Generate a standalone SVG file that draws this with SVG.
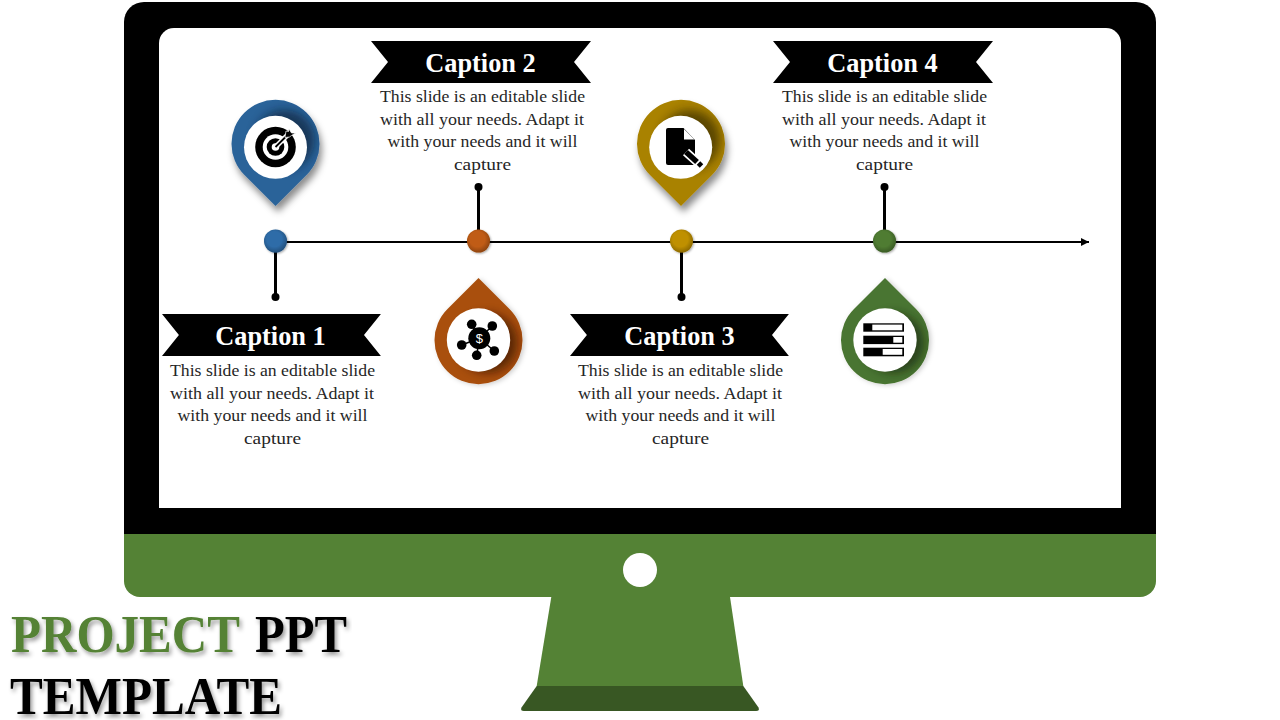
<svg xmlns="http://www.w3.org/2000/svg" width="1280" height="720" viewBox="0 0 1280 720">
<style>
text{font-family:"Liberation Serif","Times New Roman",serif}
.cap{font-size:26.3px;font-weight:700;fill:#fff;text-anchor:middle}
.body{font-size:17.7px;fill:#262626;text-anchor:middle}
.title{font-size:52.5px;font-weight:700;filter:url(#ts)}
.stem{stroke:#000;stroke-width:3;fill:none}
.ring{fill:#fff}
</style>
<defs>
<path id="pin" d="M0,62 L-31,31 A44,44 0 1 1 31,31 Z"/>
<path id="drop" d="M0,-62 L-31,-31 A44,44 0 1 0 31,-31 Z"/>
<path id="ban" d="M0,0 H220 L203,21 L220,42 H0 L17,21 Z"/>
<clipPath id="cp"><use href="#pin"/></clipPath>
<clipPath id="cd"><use href="#drop"/></clipPath>
<radialGradient id="dg" cx=".45" cy=".42" r=".6"><stop offset=".55" stop-color="#000" stop-opacity="0"/><stop offset="1" stop-color="#000" stop-opacity=".28"/></radialGradient>
<filter id="ts" x="-5%" y="-10%" width="110%" height="130%"><feDropShadow dx="2" dy="3" stdDeviation="2" flood-color="#000" flood-opacity=".4"/></filter>
<filter id="ps" x="-30%" y="-30%" width="160%" height="160%"><feDropShadow dx="2.5" dy="6" stdDeviation="3.5" flood-color="#000" flood-opacity=".45"/></filter>
<filter id="ds" x="-30%" y="-30%" width="160%" height="160%"><feDropShadow dx="2" dy="1" stdDeviation="2.5" flood-color="#000" flood-opacity=".2"/></filter>
<filter id="dot" x="-40%" y="-40%" width="180%" height="180%"><feDropShadow dx="1" dy="1" stdDeviation="1.2" flood-color="#000" flood-opacity=".35"/></filter>
<filter id="bl" x="-40%" y="-40%" width="180%" height="180%"><feGaussianBlur stdDeviation="5"/></filter>
<marker id="ah" markerWidth="9" markerHeight="9" refX="8" refY="4" orient="auto" markerUnits="userSpaceOnUse"><path d="M0,0 L8,4 L0,8 Z" fill="#000"/></marker>
</defs>

<g id="monitor">
<path fill="#000" d="M144,2 H1136 A20,20 0 0 1 1156,22 V534 H124 V22 A20,20 0 0 1 144,2 Z"/>
<path fill="#fff" d="M174,28 H1106 A15,15 0 0 1 1121,43 V508 H159 V43 A15,15 0 0 1 174,28 Z"/>
<path fill="#548235" d="M124,534 H1156 V581 A16,16 0 0 1 1140,597 H140 A16,16 0 0 1 124,581 Z"/>
<circle cx="640" cy="570" r="17" fill="#fff"/>
<path fill="#548235" d="M551.3,597 H730 L743.3,686 H536.7 Z"/>
<path fill="#385723" d="M536.7,686 H743.3 L758.5,707.5 Q760,711 756,711 H524 Q520,711 521.5,707.5 Z"/>
</g>

<g id="connectors">
<line x1="275" y1="242" x2="1089" y2="242" stroke="#000" stroke-width="2" marker-end="url(#ah)"/>
<path class="stem" d="M275.5,242 V297"/><circle cx="275.5" cy="297" r="4"/>
<path class="stem" d="M478.5,242 V187"/><circle cx="478.5" cy="187" r="4"/>
<path class="stem" d="M681.5,242 V297"/><circle cx="681.5" cy="297" r="4"/>
<path class="stem" d="M884.5,242 V187"/><circle cx="884.5" cy="187" r="4"/>
</g>

<g id="node1">
<circle cx="275.5" cy="241" r="11.5" fill="#2e6ca8" filter="url(#dot)"/><circle cx="275.5" cy="241" r="11.5" fill="url(#dg)"/>
<g transform="translate(275.5,144)">
<use href="#pin" fill="#2a6399" filter="url(#ps)"/>
<g clip-path="url(#cp)"><circle cx="9" cy="-4" r="30" fill="#0a1c30" filter="url(#bl)" opacity=".62"/></g>
<circle class="ring" cx="0" cy="3.3" r="31.5"/>
<circle cx="0" cy="3" r="20.3" fill="#000"/><circle cx="0" cy="3" r="12.8" fill="#fff"/><circle cx="0" cy="3" r="8.8" fill="#000"/><circle cx="0" cy="3" r="3.8" fill="#fff"/>
<path d="M0,3 L15,-12" stroke="#fff" stroke-width="5"/><path d="M0,3 L14,-11" stroke="#000" stroke-width="1.8"/>
<path d="M9.5,-6.5 L10.5,-13 L13,-12.5 L13.5,-15 L16,-11 L20,-11 L16,-8.5 L14,-7 Z" fill="#000" stroke="#fff" stroke-width=".7"/>
</g>
<use href="#ban" transform="translate(162,314) scale(.995,1)" fill="#000"/>
<text class="cap" x="270.5" y="345">Caption 1</text>
<text class="body" x="272.5" y="376" textLength="205" lengthAdjust="spacingAndGlyphs">This slide is an editable slide</text>
<text class="body" x="272" y="399" textLength="204" lengthAdjust="spacingAndGlyphs">with all your needs. Adapt it</text>
<text class="body" x="272.5" y="421" textLength="190" lengthAdjust="spacingAndGlyphs">with your needs and it will</text>
<text class="body" x="272.5" y="444" textLength="57" lengthAdjust="spacingAndGlyphs">capture</text>
</g>

<g id="node2">
<circle cx="478.5" cy="241" r="11.5" fill="#c05c12" filter="url(#dot)"/><circle cx="478.5" cy="241" r="11.5" fill="url(#dg)"/>
<g transform="translate(478.5,340)">
<use href="#drop" fill="#a94f10" filter="url(#ds)"/>
<g clip-path="url(#cd)"><circle cx="9" cy="3" r="30" fill="#2a1000" filter="url(#bl)" opacity=".62"/></g>
<circle class="ring" cx="0" cy="0" r="31.7"/>
<path d="M0.8,-1.7 L-6.8,-15.7 M0.8,-1.7 L13.8,-14 M0.8,-1.7 L-16.8,5 M0.8,-1.7 L-1.8,15.3 M0.8,-1.7 L15.8,11" stroke="#000" stroke-width="1.5"/>
<circle cx="0.8" cy="-1.7" r="11" fill="#000"/>
<circle cx="-6.8" cy="-15.7" r="4.8"/><circle cx="13.8" cy="-14" r="4.8"/><circle cx="-16.8" cy="5" r="4.8"/><circle cx="-1.8" cy="15.3" r="4.8"/><circle cx="15.8" cy="11" r="4.8"/>
<text x="0.8" y="3" font-size="13" fill="#fff" text-anchor="middle" style="font-family:'Liberation Sans',sans-serif">$</text>
</g>
<use href="#ban" x="371" y="41" fill="#000"/>
<text class="cap" x="480.5" y="72">Caption 2</text>
<text class="body" x="482.5" y="102" textLength="205" lengthAdjust="spacingAndGlyphs">This slide is an editable slide</text>
<text class="body" x="482" y="125" textLength="204" lengthAdjust="spacingAndGlyphs">with all your needs. Adapt it</text>
<text class="body" x="482.5" y="147" textLength="190" lengthAdjust="spacingAndGlyphs">with your needs and it will</text>
<text class="body" x="482.5" y="170" textLength="57" lengthAdjust="spacingAndGlyphs">capture</text>
</g>

<g id="node3">
<circle cx="681.5" cy="241" r="11.5" fill="#bf9000" filter="url(#dot)"/><circle cx="681.5" cy="241" r="11.5" fill="url(#dg)"/>
<g transform="translate(681,144)">
<use href="#pin" fill="#a98200" filter="url(#ps)"/>
<g clip-path="url(#cp)"><circle cx="9" cy="-4" r="30" fill="#2a2000" filter="url(#bl)" opacity=".62"/></g>
<circle class="ring" cx="-0.3" cy="3.3" r="31.5"/>
<path d="M-13,-16 H2.5 L14,-4 V19.5 Q14,21 12.5,21 H-13 Q-15,21 -15,19 V-14 Q-15,-16 -13,-16 Z" fill="#000"/>
<path d="M3,-15 L13.5,-4.5 H3 Z" fill="#fff"/>
<path d="M5,8 L20.5,22" stroke="#fff" stroke-width="9"/>
<path d="M5,8 L16,18" stroke="#000" stroke-width="5.5"/><path d="M17.5,19 L20.5,22" stroke="#000" stroke-width="5"/>
</g>
<use href="#ban" transform="translate(570,314) scale(.995,1)" fill="#000"/>
<text class="cap" x="679.5" y="345">Caption 3</text>
<text class="body" x="680.5" y="376" textLength="205" lengthAdjust="spacingAndGlyphs">This slide is an editable slide</text>
<text class="body" x="680" y="399" textLength="204" lengthAdjust="spacingAndGlyphs">with all your needs. Adapt it</text>
<text class="body" x="680.5" y="421" textLength="190" lengthAdjust="spacingAndGlyphs">with your needs and it will</text>
<text class="body" x="680.5" y="444" textLength="57" lengthAdjust="spacingAndGlyphs">capture</text>
</g>

<g id="node4">
<circle cx="884.5" cy="241" r="11.5" fill="#4f7c32" filter="url(#dot)"/><circle cx="884.5" cy="241" r="11.5" fill="url(#dg)"/>
<g transform="translate(885,340)">
<use href="#drop" fill="#4a7530" filter="url(#ds)"/>
<g clip-path="url(#cd)"><circle cx="9" cy="3" r="30" fill="#142208" filter="url(#bl)" opacity=".62"/></g>
<circle class="ring" cx="0" cy="0" r="31.7"/>
<rect x="-21.7" y="-16.7" width="40.7" height="8.4"/><rect x="-12.7" y="-15.4" width="30" height="5.7" fill="#fff"/>
<rect x="-21.7" y="-4.3" width="40.7" height="8.4"/><rect x="8.3" y="-3" width="9" height="5.7" fill="#fff"/>
<rect x="-21.7" y="7.7" width="40.7" height="8.6"/><rect x="-2.3" y="9" width="19.6" height="5.8" fill="#fff"/>
</g>
<use href="#ban" x="773" y="41" fill="#000"/>
<text class="cap" x="882.5" y="72">Caption 4</text>
<text class="body" x="884.5" y="102" textLength="205" lengthAdjust="spacingAndGlyphs">This slide is an editable slide</text>
<text class="body" x="884" y="125" textLength="204" lengthAdjust="spacingAndGlyphs">with all your needs. Adapt it</text>
<text class="body" x="884.5" y="147" textLength="190" lengthAdjust="spacingAndGlyphs">with your needs and it will</text>
<text class="body" x="884.5" y="170" textLength="57" lengthAdjust="spacingAndGlyphs">capture</text>
</g>

<g id="title">
<text class="title" x="11" y="652" textLength="229" lengthAdjust="spacingAndGlyphs" fill="#548235">PROJECT</text>
<text class="title" x="255" y="652" textLength="92" lengthAdjust="spacingAndGlyphs" fill="#000">PPT</text>
<text class="title" x="10" y="714" textLength="272" lengthAdjust="spacingAndGlyphs" fill="#000">TEMPLATE</text>
</g>
</svg>
